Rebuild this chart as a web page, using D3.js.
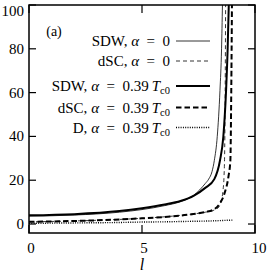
<!DOCTYPE html>
<html>
<head>
<meta charset="utf-8">
<script src="https://cdn.jsdelivr.net/npm/d3@7"></script>
<style>
  body { margin: 0; background: #fff; }
</style>
</head>
<body>
<svg id="chart" width="267" height="273" font-family="'Liberation Serif', 'Times New Roman', serif"></svg>
<script>
'use strict';
// values, [l, value]
const sdwZero = [[0, 3.6], [2, 4.1], [4, 5.4], [5, 6.6], [6, 8.4], [6.7, 10.2], [7.3, 13.2], [7.8, 18.5],
  [7.95, 20.5], [8.1, 24], [8.2, 29], [8.33, 40], [8.45, 61], [8.52, 80], [8.56, 100]];
const dscZero = [[0, 1.0], [2, 1.4], [4, 2.1], [5, 2.6], [6, 3.3], [7, 4.3], [7.8, 5.4], [8.2, 6.4],
  [8.4, 7.8], [8.5, 10.5], [8.58, 15], [8.63, 22], [8.66, 35], [8.68, 60], [8.7, 100]];
const sdwAlpha = [[0, 4.0], [2, 4.5], [4, 5.9], [5, 7.2], [6, 8.9], [6.7, 10.5], [7.3, 13], [7.8, 16.5],
  [8.2, 20.5], [8.45, 29], [8.6, 40], [8.72, 61], [8.79, 80], [8.84, 100]];
const dscAlpha = [[0, 1.0], [2, 1.4], [4, 2.1], [5, 2.6], [6, 3.2], [7, 4.2], [7.8, 5.5], [8.15, 6.5],
  [8.45, 9.5], [8.65, 14], [8.83, 22], [8.91, 29], [8.95, 61], [8.98, 100]];
const dAlpha = [[0, 0.3], [2, 0.5], [4, 0.7], [5, 0.9], [6, 1.0], [7, 1.2], [8, 1.4], [9, 1.8]];

const seriesNames = ['SDW', 'dSC', 'SDW', 'dSC', 'D'];
const seriesAlpha = ['0', '0', '0.39', '0.39', '0.39'];
const seriesData = [sdwZero, dscZero, sdwAlpha, dscAlpha, dAlpha];

const xTicks = [0, 5, 10];
const yTicks = [0, 20, 40, 60, 80, 100];

// line styles for each series
const styles = [
  { w: 0.8, dash: null },
  { w: 0.8, dash: '4,3' },
  { w: 2.0, dash: null },
  { w: 2.0, dash: '5.5,3' },
  { w: 1.4, dash: '1,1.3' },
];

const svg = d3.select('#chart');
const mLeft = 29, mRight = 255, mTop = 5, mBottom = 233;

const x = d3.scaleLinear().domain([0, 10]).range([mLeft, mRight]);
const y = d3.scaleLinear().domain([-4.1, 100]).range([mBottom, mTop]);

svg.append('defs').append('clipPath').attr('id', 'clip')
  .append('rect').attr('x', mLeft).attr('y', mTop)
  .attr('width', mRight - mLeft).attr('height', mBottom - mTop);

const line = d3.line()
  .x(d => x(d[0]))
  .y(d => y(d[1]))
  .curve(d3.curveMonotoneX);

// curves
const curves = svg.append('g').attr('clip-path', 'url(#clip)');
seriesData.forEach((data, i) => {
  curves.append('path')
    .attr('d', line(data))
    .attr('fill', 'none')
    .attr('stroke', '#000')
    .attr('stroke-width', styles[i].w)
    .attr('stroke-dasharray', styles[i].dash);
});

// frame
svg.append('rect')
  .attr('x', mLeft).attr('y', mTop)
  .attr('width', mRight - mLeft).attr('height', mBottom - mTop)
  .attr('fill', 'none').attr('stroke', '#000').attr('stroke-width', 1.5);

// inward ticks on all sides
const tickLen = 7;
yTicks.forEach(t => {
  svg.append('line').attr('x1', mLeft).attr('x2', mLeft + tickLen)
    .attr('y1', y(t)).attr('y2', y(t)).attr('stroke', '#000').attr('stroke-width', 1.2);
  svg.append('line').attr('x1', mRight).attr('x2', mRight - tickLen)
    .attr('y1', y(t)).attr('y2', y(t)).attr('stroke', '#000').attr('stroke-width', 1.2);
  svg.append('text')
    .attr('x', mLeft - 5)
    .attr('y', t === 100 ? y(t) + 11 : y(t) + 5)
    .attr('text-anchor', 'end')
    .attr('font-size', 15)
    .text(t);
});
xTicks.forEach(t => {
  svg.append('line').attr('x1', x(t)).attr('x2', x(t))
    .attr('y1', mBottom).attr('y2', mBottom - 8).attr('stroke', '#000').attr('stroke-width', 1.2);
  svg.append('line').attr('x1', x(t)).attr('x2', x(t))
    .attr('y1', mTop).attr('y2', mTop + 8).attr('stroke', '#000').attr('stroke-width', 1.2);
  svg.append('text')
    .attr('x', t === 10 ? x(t) + 4 : x(t) + 2)
    .attr('y', 253)
    .attr('text-anchor', 'middle')
    .attr('font-size', 15)
    .text(t);
});

// axis label
svg.append('text')
  .attr('x', x(5)).attr('y', 270)
  .attr('text-anchor', 'middle')
  .attr('font-size', 16)
  .attr('font-style', 'italic')
  .text('l');

// panel tag
svg.append('text')
  .attr('x', 54).attr('y', 36)
  .attr('text-anchor', 'middle')
  .attr('font-size', 14)
  .text('(a)');

// legend
const legendY = [41, 61, 86, 107.5, 127.5];
const legend = svg.append('g');
seriesData.forEach((data, i) => {
  const ly = legendY[i];
  legend.append('line')
    .attr('x1', 176).attr('x2', 210)
    .attr('y1', ly).attr('y2', ly)
    .attr('stroke', '#000')
    .attr('stroke-width', styles[i].w)
    .attr('stroke-dasharray', styles[i].dash);
  const txt = legend.append('text')
    .attr('x', 170).attr('y', ly + 5)
    .attr('text-anchor', 'end')
    .attr('font-size', 15);
  txt.append('tspan').text(seriesNames[i] + ', ');
  txt.append('tspan').attr('font-style', 'italic').text('α');
  txt.append('tspan').text('\u2002=\u2002' + seriesAlpha[i]);
  if (seriesAlpha[i] !== '0') {
    txt.append('tspan').attr('font-style', 'italic').text('\u2009T');
    txt.append('tspan').attr('font-size', 10.5).attr('dy', 3).text('c0');
  }
});
</script>
</body>
</html>
